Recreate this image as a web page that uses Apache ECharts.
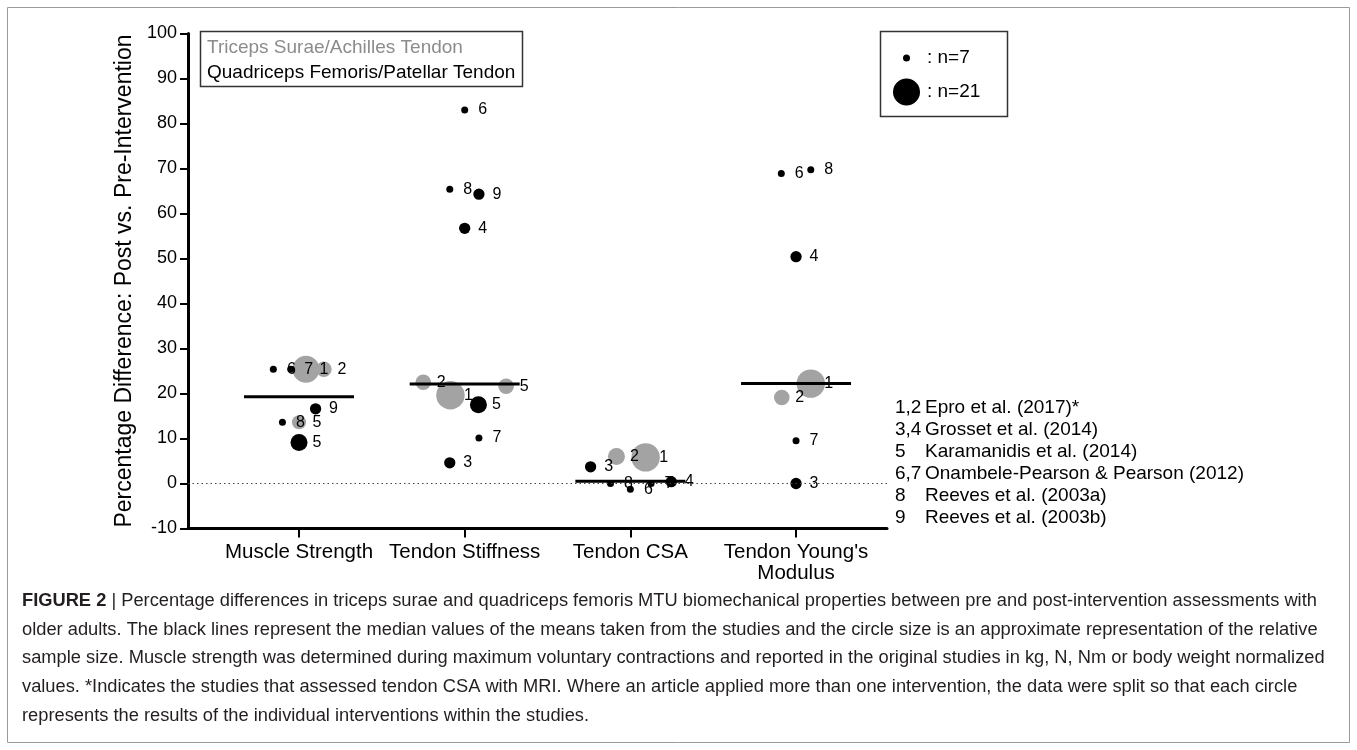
<!DOCTYPE html>
<html>
<head>
<meta charset="utf-8">
<title>Figure 2</title>
<script src="https://cdn.jsdelivr.net/npm/echarts@6/dist/echarts.min.js"></script>
<style>
html, body { margin: 0; padding: 0; background: #fff; }
#main { width: 1357px; height: 750px; }
</style>
</head>
<body>
<div id="main"></div>
<script>
// x axis categories
var categories = ["Muscle Strength", "Tendon Stiffness", "Tendon CSA", "Tendon Young's\nModulus"];
// median of the study means, one per category
var medians = [19.3, 22.1, 0.5, 22.2];

// one row per study point: [category index, jitter, % difference, n, study number]
var tricepsSurae = [
    [0, 0.042, 25.4, 21, 1],
    [0, 0.150, 25.4, 13, 2],
    [0, 0.000, 13.6, 12, 5],
    [1, -0.086, 19.6, 22, 1],
    [1, -0.250, 22.5, 13, 2],
    [1, 0.250, 21.6, 13, 5],
    [2, 0.092, 5.8, 22, 1],
    [2, -0.084, 6.0, 14, 2],
    [3, 0.089, 22.2, 22, 1],
    [3, -0.086, 19.1, 13, 2]
];
var quadriceps = [
    [0, -0.155, 25.4, 7, 6],
    [0, -0.050, 25.4, 7, 7],
    [0, 0.100, 16.6, 10, 9],
    [0, -0.100, 13.6, 7, 8],
    [0, 0.000, 9.1, 14, 5],
    [1, 0.000, 83.0, 7, 6],
    [1, -0.090, 65.4, 7, 8],
    [1, 0.086, 64.3, 10, 9],
    [1, 0.000, 56.7, 10, 4],
    [1, 0.083, 17.5, 14, 5],
    [1, 0.086, 10.1, 7, 7],
    [1, -0.090, 4.6, 10, 3],
    [2, -0.240, 3.7, 10, 3],
    [2, -0.120, 0.0, 7, 8],
    [2, 0.000, -1.3, 7, 6],
    [2, 0.125, 0.0, 7, 7],
    [2, 0.247, 0.4, 10, 4],
    [3, -0.089, 68.9, 7, 6],
    [3, 0.089, 69.7, 7, 8],
    [3, 0.000, 50.4, 10, 4],
    [3, 0.000, 9.5, 7, 7],
    [3, 0.000, 0.0, 10, 3]
];
// legend sample sizes
var legendN = [7, 21];
// study key on the right
var studyKeys = ["1,2", "3,4", "5", "6,7", "8", "9"];
var studyNames = [
    "Epro et al. (2017)*",
    "Grosset et al. (2014)",
    "Karamanidis et al. (2014)",
    "Onambele-Pearson & Pearson (2012)",
    "Reeves et al. (2003a)",
    "Reeves et al. (2003b)"
];
var captionLines = [
    " | Percentage differences in triceps surae and quadriceps femoris MTU biomechanical properties between pre and post-intervention assessments with",
    "older adults. The black lines represent the median values of the means taken from the studies and the circle size is an approximate representation of the relative",
    "sample size. Muscle strength was determined during maximum voluntary contractions and reported in the original studies in kg, N, Nm or body weight normalized",
    "values. *Indicates the studies that assessed tendon CSA with MRI. Where an article applied more than one intervention, the data were split so that each circle",
    "represents the results of the individual interventions within the studies."
];

var FONT = "'Liberation Sans', Arial, Helvetica, sans-serif";
var GREY = "#a3a3a3";

// circle radius from sample size (n=7 -> 7px, n=21 -> 27px wide)
function radius(n) {
    return (7 + (n - 7) * 20 / 14) / 2;
}

function toData(rows) {
    return rows.map(function (r) {
        return [r[0] + 1 + r[1], r[2], r[3], r[4]];
    });
}

function circleSeries(name, rows, color, z) {
    return {
        type: "custom",
        name: name,
        z: z,
        silent: true,
        data: toData(rows),
        encode: { x: 0, y: 1 },
        renderItem: function (params, api) {
            var c = api.coord([api.value(0), api.value(1)]);
            return {
                type: "circle",
                shape: { cx: c[0], cy: c[1], r: radius(api.value(2)) },
                style: { fill: color }
            };
        }
    };
}

var myChart = echarts.init(document.getElementById("main"));

var graphic = [
    // outer frame
    { type: "rect", shape: { x: 7.5, y: 7.5, width: 1342, height: 735 },
      style: { fill: "none", stroke: "#9a9a9a", lineWidth: 1 } },
    // tendon legend
    { type: "rect", shape: { x: 200.5, y: 31.5, width: 322, height: 55 },
      style: { fill: "#fff", stroke: "#333", lineWidth: 1.5 }, z: 5 },
    { type: "text", x: 207, y: 48, z: 6,
      style: { text: "Triceps Surae/Achilles Tendon", fill: "#8c8c8c", font: "19px " + FONT, verticalAlign: "middle" } },
    { type: "text", x: 207, y: 73, z: 6,
      style: { text: "Quadriceps Femoris/Patellar Tendon", fill: "#000", font: "19px " + FONT, verticalAlign: "middle" } },
    // sample size legend
    { type: "rect", shape: { x: 880.5, y: 31.5, width: 127, height: 85 },
      style: { fill: "#fff", stroke: "#333", lineWidth: 1.5 }, z: 5 }
];
legendN.forEach(function (n, i) {
    var cy = 58 + i * 34;
    graphic.push({ type: "circle", z: 6, shape: { cx: 906.5, cy: cy, r: radius(n) }, style: { fill: "#000" } });
    graphic.push({ type: "text", x: 927, y: cy, z: 6,
        style: { text: ": n=" + n, fill: "#000", font: "19px " + FONT, verticalAlign: "middle" } });
});
studyKeys.forEach(function (k, i) {
    var y = 408 + i * 22;
    graphic.push({ type: "text", x: 895, y: y,
        style: { text: k, fill: "#000", font: "19px " + FONT, verticalAlign: "middle" } });
    graphic.push({ type: "text", x: 925, y: y,
        style: { text: studyNames[i], fill: "#000", font: "19px " + FONT, verticalAlign: "middle" } });
});
captionLines.forEach(function (line, i) {
    graphic.push({ type: "text", x: 22, y: 601 + i * 28.7,
        style: {
            text: (i === 0 ? "{b|FIGURE 2}" : "") + line,
            fill: "#231f20",
            font: "18.3px " + FONT,
            verticalAlign: "middle",
            rich: { b: { fontWeight: "bold", fontSize: 18.3, fontFamily: FONT, fill: "#231f20" } }
        } });
});

var option = {
    animation: false,
    textStyle: { fontFamily: FONT },
    grid: { left: 188, right: 470, top: 33.5, bottom: 221.5 },
    xAxis: {
        type: "value",
        min: 0.33,
        max: 4.549,
        splitLine: { show: false },
        axisLine: { show: true, onZero: false, lineStyle: { color: "#000", width: 3 } },
        axisTick: { show: true, customValues: [1, 2, 3, 4], length: 9, lineStyle: { color: "#000", width: 2 } },
        axisLabel: {
            customValues: [1, 2, 3, 4],
            formatter: function (v) { return categories[Math.round(v) - 1]; },
            fontSize: 20.5,
            lineHeight: 21,
            color: "#000",
            margin: 13
        }
    },
    yAxis: {
        type: "value",
        min: -10,
        max: 100,
        interval: 10,
        splitLine: { show: false },
        axisLine: { show: true, onZero: false, lineStyle: { color: "#000", width: 3 } },
        axisTick: { length: 8, lineStyle: { color: "#000", width: 2 } },
        axisLabel: { fontSize: 18, color: "#000", margin: 11 },
        name: "Percentage Difference: Post vs. Pre-Intervention",
        nameLocation: "middle",
        nameGap: 46,
        nameTextStyle: { fontSize: 23, color: "#000" }
    },
    graphic: graphic,
    series: [
        {
            // zero reference line
            type: "line",
            data: [],
            z: 1,
            markLine: {
                silent: true,
                symbol: "none",
                label: { show: false },
                lineStyle: { color: "#444", type: [1.5, 3], width: 1.2 },
                data: [{ yAxis: 0 }]
            }
        },
        circleSeries("Triceps Surae/Achilles Tendon", tricepsSurae, GREY, 2),
        circleSeries("Quadriceps Femoris/Patellar Tendon", quadriceps, "#000", 3),
        {
            // median lines
            type: "custom",
            z: 4,
            silent: true,
            data: medians.map(function (m, i) { return [i + 1, m]; }),
            encode: { x: 0, y: 1 },
            renderItem: function (params, api) {
                var c = api.coord([api.value(0), api.value(1)]);
                return {
                    type: "line",
                    shape: { x1: c[0] - 55, y1: c[1], x2: c[0] + 55, y2: c[1] },
                    style: { stroke: "#000", lineWidth: 3 }
                };
            }
        },
        {
            // study number next to each circle
            type: "custom",
            z: 5,
            silent: true,
            data: toData(tricepsSurae.concat(quadriceps)),
            encode: { x: 0, y: 1 },
            renderItem: function (params, api) {
                var c = api.coord([api.value(0), api.value(1)]);
                return {
                    type: "text",
                    x: c[0] + 18,
                    y: c[1],
                    style: {
                        text: String(api.value(3)),
                        fill: "#000",
                        font: "16px " + FONT,
                        align: "center",
                        verticalAlign: "middle"
                    }
                };
            }
        }
    ]
};

myChart.setOption(option);
</script>
</body>
</html>
